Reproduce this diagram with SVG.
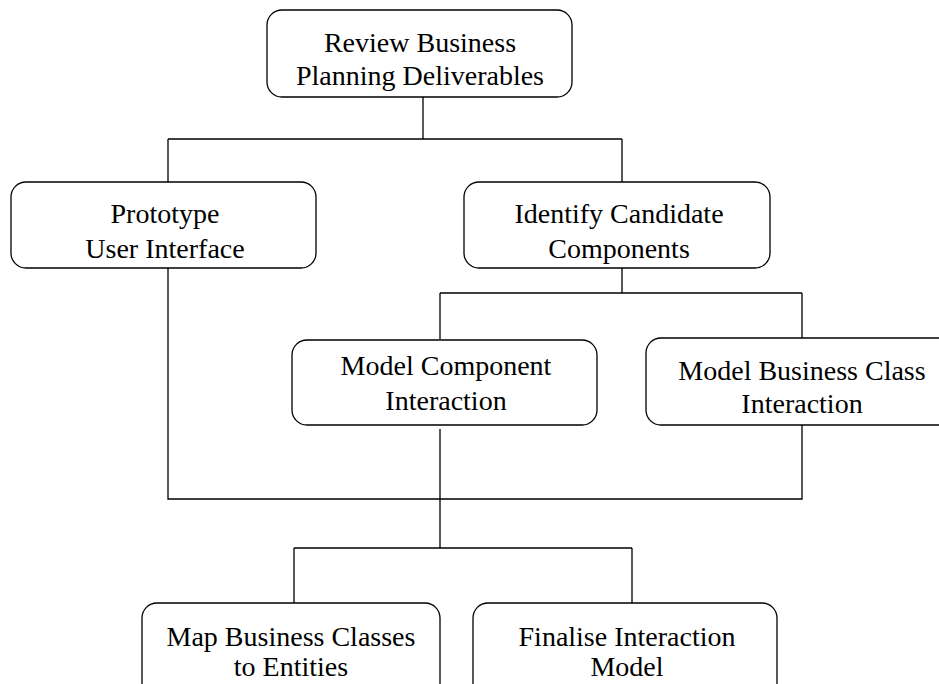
<svg xmlns="http://www.w3.org/2000/svg" width="939" height="684" viewBox="0 0 939 684">
<style>
.box{fill:#fff;stroke:#000;stroke-width:1.3}
.ln{fill:none;stroke:#000;stroke-width:1.3}
text{font-family:"Liberation Serif","Times New Roman",serif;font-size:28px;fill:#000;text-anchor:middle}
</style>
<rect width="939" height="684" fill="#fff"/>
<g id="connectors">
<path class="ln" d="M423 97V139M168 139H622M168 139V182M622 139V182"/>
<path class="ln" d="M622 268V293M440 293H802M440 293V339M802 293V338"/>
<path class="ln" d="M168 268V499H802V425M440 429V548M294 548H632M294 548V603M632 548V603"/>
</g>
<g id="n1"><rect class="box" x="267" y="10" width="305" height="87" rx="15"/><text x="420" y="52">Review Business</text><text x="420" y="85">Planning Deliverables</text></g>
<g id="n2"><rect class="box" x="11" y="182" width="305" height="86" rx="15"/><text x="165" y="223">Prototype</text><text x="165" y="258">User Interface</text></g>
<g id="n3"><rect class="box" x="464" y="182" width="306" height="86" rx="15"/><text x="619" y="223">Identify Candidate</text><text x="619" y="258">Components</text></g>
<g id="n4"><rect class="box" x="292" y="340" width="305" height="85" rx="15"/><text x="446" y="375">Model Component</text><text x="446" y="410">Interaction</text></g>
<g id="n5"><rect class="box" x="646" y="338" width="312" height="87" rx="15"/><text x="802" y="380">Model Business Class</text><text x="802" y="413">Interaction</text></g>
<g id="n6"><rect class="box" x="142" y="603" width="298" height="100" rx="15"/><text x="291" y="646">Map Business Classes</text><text x="291" y="676">to Entities</text></g>
<g id="n7"><rect class="box" x="473" y="603" width="304" height="100" rx="15"/><text x="627" y="646">Finalise Interaction</text><text x="627" y="676">Model</text></g>
</svg>
